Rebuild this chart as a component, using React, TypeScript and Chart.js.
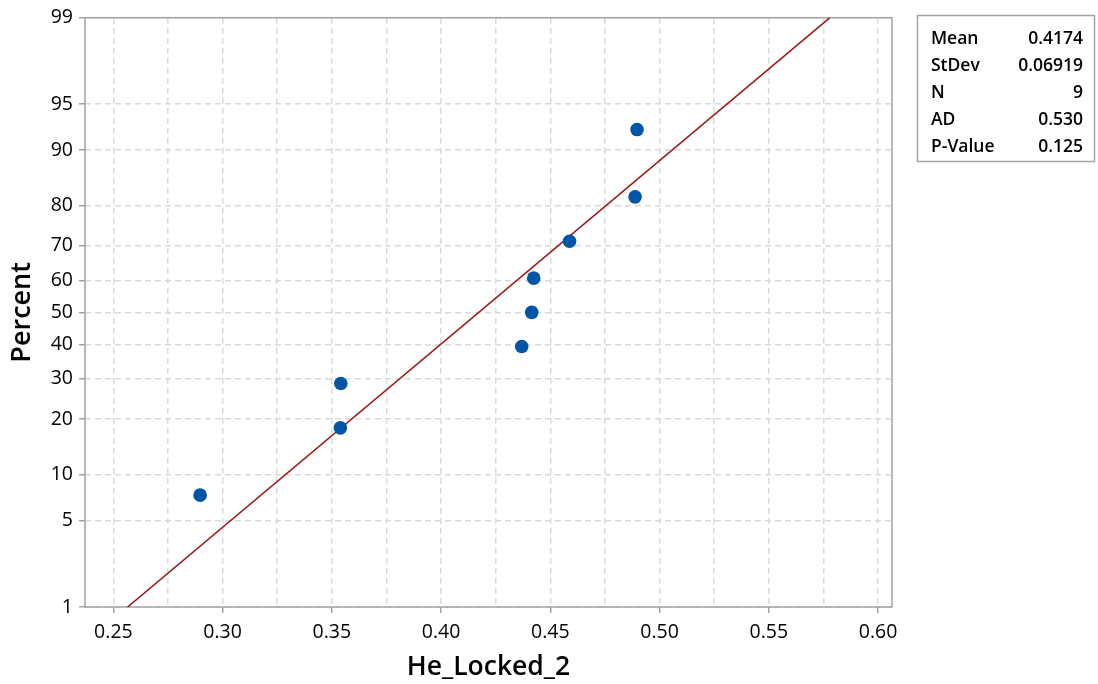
import React, { useEffect, useRef } from 'react';
import { Chart, registerables, LinearScale } from 'chart.js';

// ---- Data ----
const xValues = [0.2897, 0.3539, 0.3541, 0.4369, 0.4415, 0.4424, 0.4588, 0.4888, 0.4897];
const percentValues = [7.45, 18.09, 28.72, 39.36, 50.0, 60.64, 71.28, 81.91, 92.55];
const fitX = [0.2565, 0.578];
const fitPercent = [1, 99];
const yTickValues = [1, 5, 10, 20, 30, 40, 50, 60, 70, 80, 90, 95, 99];
const xGridValues = [0.25, 0.275, 0.3, 0.325, 0.35, 0.375, 0.4, 0.425, 0.45, 0.475, 0.5, 0.525, 0.55, 0.575, 0.6];
const statLabels = ['Mean', 'StDev', 'N', 'AD', 'P-Value'];
const statValues = ['0.4174', '0.06919', '9', '0.530', '0.125'];

const FONT = "'Open Sans', 'Noto Sans', sans-serif";

function normInv(p: number): number {
  const a = [-3.969683028665376e1, 2.209460984245205e2, -2.759285104469687e2, 1.38357751867269e2, -3.066479806614716e1, 2.506628277459239];
  const b = [-5.447609879822406e1, 1.615858368580409e2, -1.556989798598866e2, 6.680131188771972e1, -1.328068155288572e1];
  const c = [-7.784894002430293e-3, -3.223964580411365e-1, -2.400758277161838, -2.549732539343734, 4.374664141464968, 2.938163982698783];
  const d = [7.784695709041462e-3, 3.224671290700398e-1, 2.445134137142996, 3.754408661907416];
  const pl = 0.02425;
  if (p < pl) {
    const q = Math.sqrt(-2 * Math.log(p));
    return (((((c[0] * q + c[1]) * q + c[2]) * q + c[3]) * q + c[4]) * q + c[5]) / ((((d[0] * q + d[1]) * q + d[2]) * q + d[3]) * q + 1);
  }
  if (p <= 1 - pl) {
    const q = p - 0.5;
    const r = q * q;
    return ((((((a[0] * r + a[1]) * r + a[2]) * r + a[3]) * r + a[4]) * r + a[5]) * q) / (((((b[0] * r + b[1]) * r + b[2]) * r + b[3]) * r + b[4]) * r + 1);
  }
  const q = Math.sqrt(-2 * Math.log(1 - p));
  return -(((((c[0] * q + c[1]) * q + c[2]) * q + c[3]) * q + c[4]) * q + c[5]) / ((((d[0] * q + d[1]) * q + d[2]) * q + d[3]) * q + 1);
}

function normCdf(z: number): number {
  const t = 1 / (1 + 0.2316419 * Math.abs(z));
  const dd = 0.3989423 * Math.exp((-z * z) / 2);
  const prob = dd * t * (0.3193815 + t * (-0.3565638 + t * (1.781478 + t * (-1.821256 + t * 1.330274))));
  return z > 0 ? 1 - prob : prob;
}

class ProbitScale extends LinearScale {
  static id = 'probit';
  buildTicks() {
    return yTickValues.map((v) => ({ value: v }));
  }
  getPixelForValue(value: number) {
    const zmin = normInv(this.min / 100);
    const zmax = normInv(this.max / 100);
    const z = normInv(value / 100);
    return this.getPixelForDecimal((z - zmin) / (zmax - zmin));
  }
  getValueForPixel(pixel: number) {
    const zmin = normInv(this.min / 100);
    const zmax = normInv(this.max / 100);
    const dec = this.getDecimalForPixel(pixel);
    return normCdf(zmin + dec * (zmax - zmin)) * 100;
  }
}

Chart.register(...registerables, ProbitScale as any);

const framePlugin = {
  id: 'frameAndStats',
  beforeDatasetsDraw(chart: any) {
    const { ctx, chartArea } = chart;
    const { left, top, right, bottom } = chartArea;
    ctx.save();
    ctx.strokeStyle = '#a3a3a3';
    ctx.lineWidth = 1.5;
    ctx.setLineDash([]);
    ctx.strokeRect(left, top, right - left, bottom - top);
    ctx.restore();
  },
  afterDraw(chart: any) {
    const { ctx } = chart;
    ctx.save();
    ctx.strokeStyle = '#a3a3a3';
    ctx.lineWidth = 1.5;
    ctx.strokeRect(917.5, 15.5, 177, 146);
    ctx.fillStyle = '#000';
    ctx.font = `600 17.5px ${FONT}`;
    ctx.textBaseline = 'alphabetic';
    statLabels.forEach((lab, i) => {
      const y = 44 + i * 27;
      ctx.textAlign = 'left';
      ctx.fillText(lab, 931, y);
      ctx.textAlign = 'right';
      ctx.fillText(statValues[i], 1083, y);
    });
    ctx.restore();
  },
};

export default function App() {
  const canvasRef = useRef<HTMLCanvasElement | null>(null);

  useEffect(() => {
    if (!canvasRef.current) return;
    const points = xValues.map((x, i) => ({ x, y: percentValues[i] }));
    const fitLine = fitX.map((x, i) => ({ x, y: fitPercent[i] }));
    const isMajor = (v: number) => Math.abs(Math.round(v * 1000) % 50) < 1;
    const chart = new Chart(canvasRef.current, {
      type: 'scatter',
      data: {
        datasets: [
          {
            type: 'line',
            data: fitLine,
            borderColor: '#9e1b1b',
            borderWidth: 1.6,
            pointRadius: 0,
            fill: false,
            order: 2,
          } as any,
          {
            type: 'scatter',
            data: points,
            backgroundColor: '#0055a5',
            borderWidth: 0,
            pointRadius: 6.8,
            order: 1,
          },
        ],
      },
      plugins: [framePlugin],
      options: {
        animation: false,
        responsive: true,
        maintainAspectRatio: false,
        events: [],
        layout: { padding: { left: 0, top: 15, right: 206, bottom: 0 } },
        plugins: { legend: { display: false }, tooltip: { enabled: false } },
        scales: {
          x: {
            type: 'linear',
            min: 0.237,
            max: 0.6064,
            afterBuildTicks: (scale: any) => {
              scale.ticks = xGridValues.map((v) => ({ value: v }));
            },
            afterFit: (scale: any) => {
              scale.height = 77;
            },
            border: { display: false, dash: [6, 4] },
            grid: {
              color: '#dadada',
              lineWidth: 1.5,
              tickLength: 6,
              tickBorderDash: [],
              tickColor: (ctx: any) => (ctx.tick && isMajor(ctx.tick.value) ? '#a3a3a3' : 'rgba(0,0,0,0)'),
              tickWidth: 1.5,
            } as any,
            ticks: {
              autoSkip: false,
              maxRotation: 0,
              padding: 8,
              color: '#000',
              font: { family: FONT, size: 19.5 },
              callback: (v: any) => (isMajor(Number(v)) ? Number(v).toFixed(2) : ''),
            },
            title: {
              display: true,
              text: 'He_Locked_2',
              color: '#000',
              font: { family: FONT, size: 26.5, weight: 600 },
              padding: { top: 0, bottom: 1 },
            },
          },
          y: {
            type: 'probit' as any,
            min: 1,
            max: 99,
            afterFit: (scale: any) => {
              scale.width = 85;
            },
            border: { display: false, dash: [6, 4] },
            grid: {
              color: '#dadada',
              lineWidth: 1.5,
              tickLength: 6,
              tickBorderDash: [],
              tickColor: '#a3a3a3',
              tickWidth: 1.5,
            } as any,
            ticks: {
              autoSkip: false,
              padding: 6,
              color: '#000',
              font: { family: FONT, size: 19.5 },
              callback: (v: any) => String(v),
            },
            title: {
              display: true,
              text: 'Percent',
              color: '#000',
              font: { family: FONT, size: 27, weight: 600 },
              padding: { top: 6, bottom: 0 },
            },
          } as any,
        },
      },
    });
    return () => chart.destroy();
  }, []);

  return (
    <div style={{ position: 'absolute', left: 0, top: 0, width: 1098, height: 684 }}>
      <canvas ref={canvasRef} />
    </div>
  );
}
